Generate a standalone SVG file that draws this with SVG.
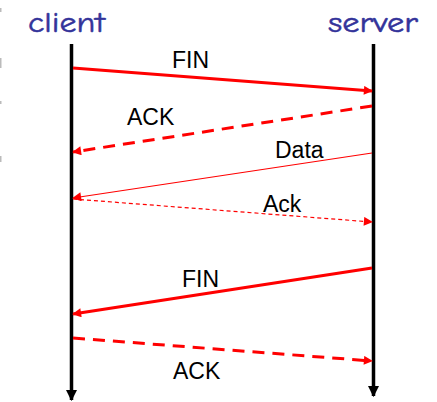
<svg xmlns="http://www.w3.org/2000/svg" width="437" height="402" viewBox="0 0 437 402">
<style>
.title{font-family:"Comic Neue","DejaVu Sans",sans-serif;font-size:29px;font-weight:normal;fill:#33339a;stroke:#33339a;stroke-width:0.5}
.lbl{font-family:"Liberation Sans",Arial,sans-serif;font-size:23px;fill:#000}
.life{stroke:#000;stroke-width:3.5;fill:none}
.msg{stroke:#ff0000;fill:none}
</style>
<defs>
<marker id="ah" viewBox="0 0 10 10" refX="9" refY="5" markerWidth="11" markerHeight="9" markerUnits="userSpaceOnUse" orient="auto"><path d="M0,0L10,5L0,10z" fill="#ff0000"/></marker>
<marker id="ahb" viewBox="0 0 10 10" refX="9" refY="5" markerWidth="11" markerHeight="11" markerUnits="userSpaceOnUse" orient="auto"><path d="M0,0L10,5L0,10z" fill="#000"/></marker>
</defs>
<rect width="437" height="402" fill="#fff"/>
<g fill="#bbb"><rect x="0" y="8" width="1.5" height="4"/><rect x="0" y="58" width="1.5" height="10"/><rect x="0" y="101" width="1.5" height="3"/><rect x="0" y="156" width="1.5" height="6"/></g>
<g id="client"><text class="title" x="28" y="32" textLength="77" lengthAdjust="spacingAndGlyphs">client</text><line class="life" x1="71.5" y1="44" x2="71.5" y2="400" marker-end="url(#ahb)"/></g>
<g id="server"><text class="title" x="328" y="32" textLength="90" lengthAdjust="spacingAndGlyphs">server</text><line class="life" x1="373.5" y1="44" x2="373.5" y2="396" marker-end="url(#ahb)"/></g>
<g id="connectors">
<line class="msg" stroke-width="3" x1="73" y1="68" x2="372" y2="91" marker-end="url(#ah)"/>
<text class="lbl" x="172" y="68">FIN</text>
<line class="msg" stroke-width="3" stroke-dasharray="12,8" x1="372" y1="106" x2="73" y2="152" marker-end="url(#ah)"/>
<text class="lbl" x="127" y="125">ACK</text>
<line class="msg" stroke-width="1.2" x1="372" y1="153" x2="73" y2="198" marker-end="url(#ah)"/>
<text class="lbl" x="275" y="158">Data</text>
<line class="msg" stroke-width="1.2" stroke-dasharray="4,3" x1="73" y1="199" x2="372" y2="222" marker-end="url(#ah)"/>
<text class="lbl" x="263" y="212">Ack</text>
<line class="msg" stroke-width="3" x1="372" y1="268" x2="73" y2="314" marker-end="url(#ah)"/>
<text class="lbl" x="182" y="287">FIN</text>
<line class="msg" stroke-width="3" stroke-dasharray="12,8" x1="73" y1="338" x2="372" y2="361" marker-end="url(#ah)"/>
<text class="lbl" x="173" y="379">ACK</text>
</g>
</svg>
